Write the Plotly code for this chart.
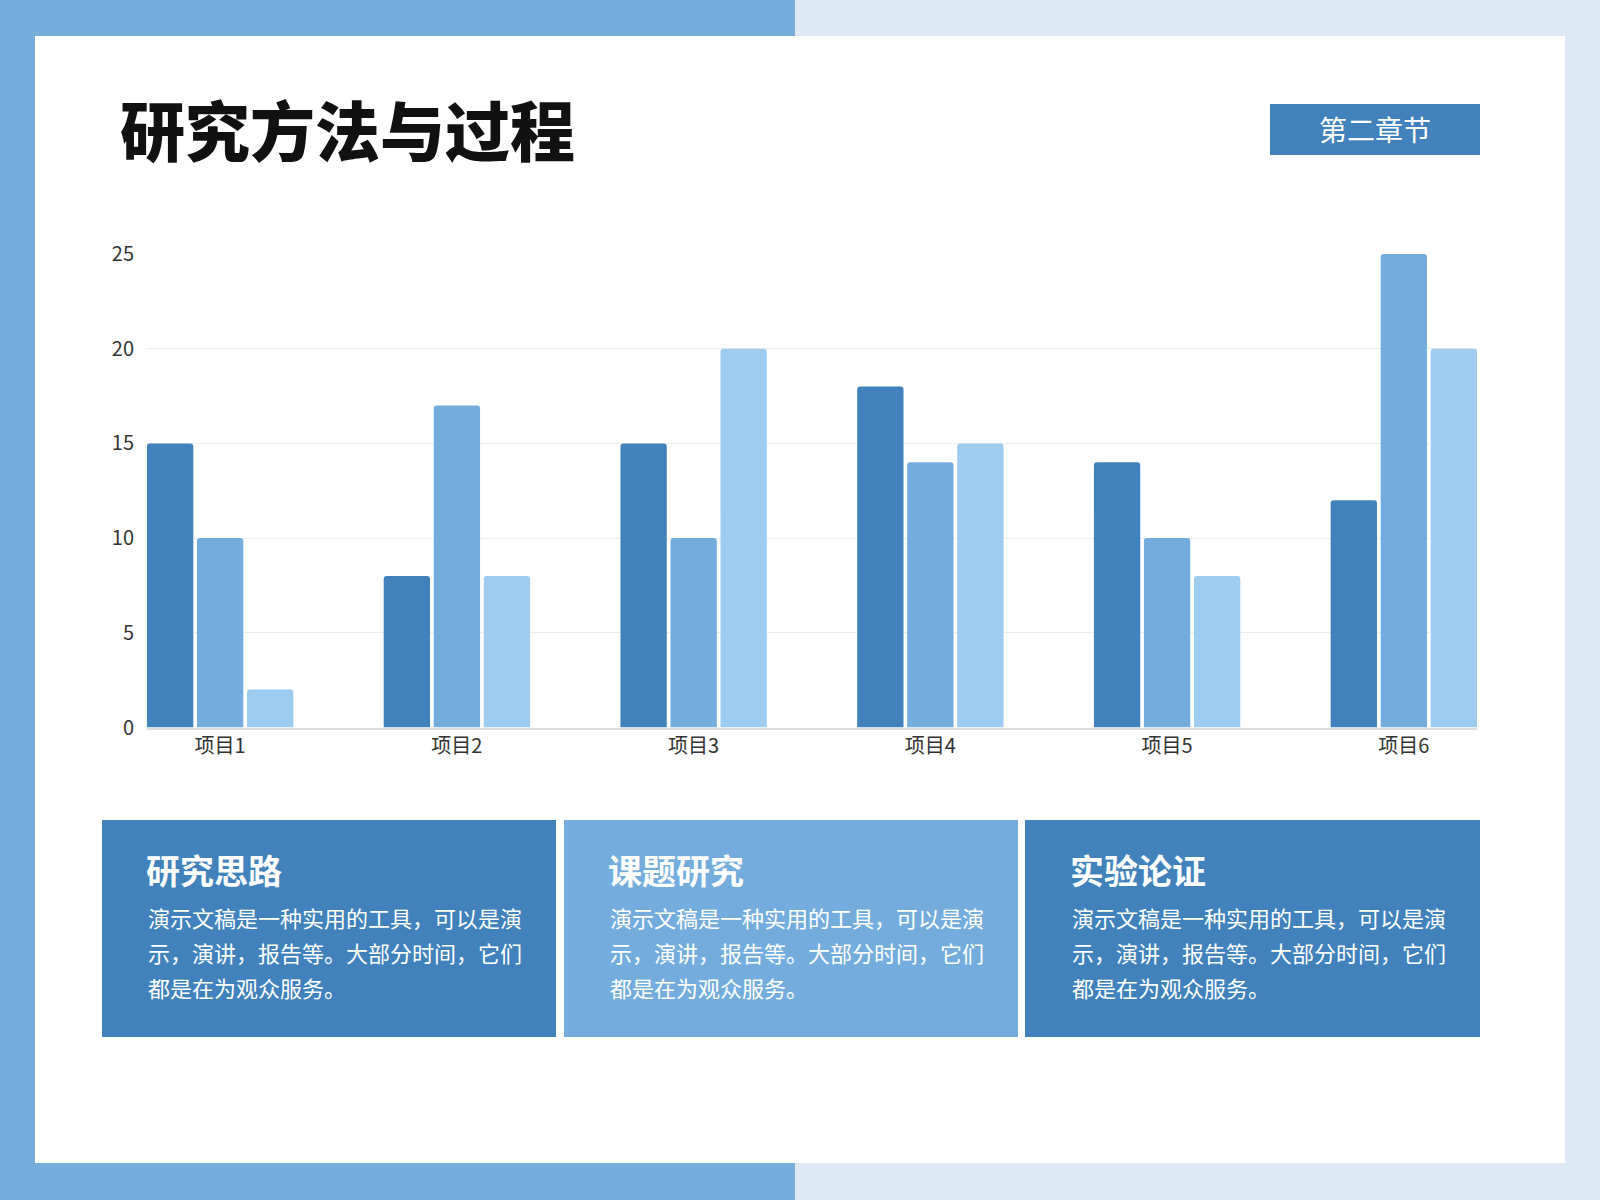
import plotly.graph_objects as go

# chart data
categories = ["项目1", "项目2", "项目3", "项目4", "项目5", "项目6"]
series_a = [15, 8, 15, 18, 14, 12]
series_b = [10, 17, 10, 14, 10, 25]
series_c = [2, 8, 20, 15, 8, 20]
y_ticks = [0, 5, 10, 15, 20, 25]

# page text
title_text = "研究方法与过程"
badge_text = "第二章节"
card_titles = ["研究思路", "课题研究", "实验论证"]
card_lines = [
    "演示文稿是一种实用的工具，可以是演",
    "示，演讲，报告等。大部分时间，它们",
    "都是在为观众服务。",
]

W, H = 1600, 1200
DARK, MID, LIGHT = "#4182bc", "#74addd", "#9ecbf0"
BAND_BLUE, BAND_PALE = "#75aedd", "#ddeaf6"
CJK = "Noto Sans CJK SC"


def px_x(x):
    return x / W


def px_y(y):
    return 1 - y / H


def rect(x0, y0, x1, y1, color):
    return dict(type="rect", xref="paper", yref="paper", layer="below",
                x0=px_x(x0), x1=px_x(x1), y0=px_y(y1), y1=px_y(y0),
                fillcolor=color, line=dict(width=0))


fig = go.Figure()
for vals, col in [(series_a, DARK), (series_b, MID), (series_c, LIGHT)]:
    fig.add_trace(go.Bar(x=categories, y=vals, marker=dict(color=col, line=dict(width=0)),
                         hoverinfo="skip"))

shapes = [
    # frame bands
    rect(0, 0, W, H, BAND_PALE),
    rect(0, 0, 795, 36, BAND_BLUE),
    rect(0, 0, 35, H, BAND_BLUE),
    rect(0, 1163, 795, H, BAND_BLUE),
    rect(35, 36, 1565, 1163, "#ffffff"),
    # badge
    rect(1270, 104, 1480, 155, DARK),
    # cards
    rect(102, 820, 556, 1037, DARK),
    rect(564, 820, 1018, 1037, MID),
    rect(1025, 820, 1480, 1037, DARK),
]

annotations = [
    dict(text=title_text, x=px_x(118), y=px_y(128), xanchor="left", yanchor="middle",
         font=dict(family=CJK, size=65, color="#111111", weight=900)),
    dict(text=badge_text, x=px_x(1375), y=px_y(129), xanchor="center", yanchor="middle",
         font=dict(family=CJK, size=28, color="#ffffff")),
]
card_left = [146, 608, 1070]
for left, head in zip(card_left, card_titles):
    annotations.append(dict(text=head, x=px_x(left - 2), y=px_y(869), xanchor="left",
                            yanchor="middle",
                            font=dict(family=CJK, size=34, color="#ffffff", weight="bold")))
    for i, line in enumerate(card_lines):
        annotations.append(dict(text=line, x=px_x(left), y=px_y(917 + 35 * i), xanchor="left",
                                yanchor="middle",
                                font=dict(family=CJK, size=22, color="#ffffff")))
for a in annotations:
    a.update(xref="paper", yref="paper", showarrow=False)

fig.update_layout(
    width=W, height=H,
    margin=dict(l=0, r=0, t=0, b=0),
    paper_bgcolor="#ffffff", plot_bgcolor="rgba(0,0,0,0)",
    barmode="group", bargap=0.366, bargroupgap=0.074, barcornerradius=3,
    showlegend=False,
    shapes=shapes, annotations=annotations,
    font=dict(family=CJK, color="#333333"),
    xaxis=dict(domain=[px_x(147), px_x(1477)], range=[-0.309, 5.309], automargin=False,
               showline=True, linecolor="#dddddd", linewidth=1.5, ticks="",
               tickfont=dict(size=20, color="#333333"), fixedrange=True),
    yaxis=dict(domain=[px_y(727.5), px_y(254)], range=[0, 25], tickvals=y_ticks,
               automargin=False,
               showgrid=True, gridcolor="#eeeeee", gridwidth=1, zeroline=False,
               ticks="", ticklabelstandoff=12,
               tickfont=dict(size=20, color="#333333"), fixedrange=True),
)

# pin the figure to the top-left corner of the page
pin = ("document.body.style.margin='0';"
       "var d=document.getElementById('{plot_id}');"
       "d.style.position='fixed';d.style.top='0px';d.style.left='0px';")
fig.write_html("out.html", post_script=pin, config=dict(displayModeBar=False))
